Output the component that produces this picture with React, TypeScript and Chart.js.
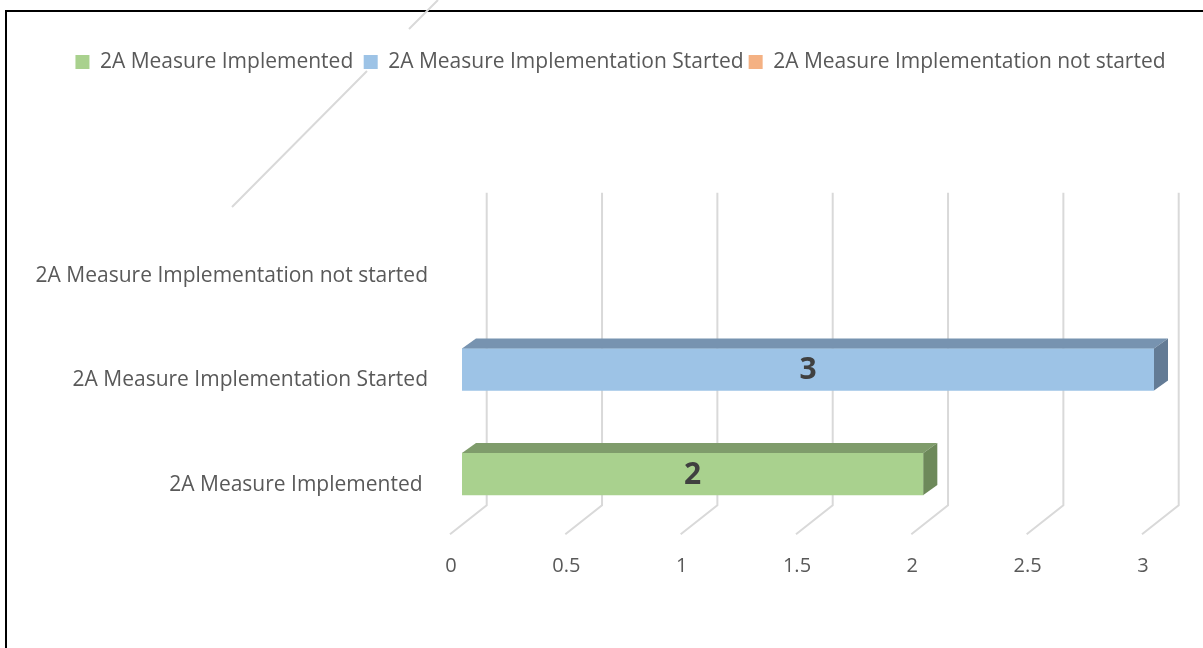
import React, { useEffect, useRef } from 'react';
import { Chart, registerables } from 'chart.js';

Chart.register(...registerables);

// ---- data ----
const categories = [
  '2A Measure Implemented ',
  '2A Measure Implementation Started',
  '2A Measure Implementation not started',
];
const seriesNames = [
  '2A Measure Implemented ',
  '2A Measure Implementation Started',
  '2A Measure Implementation not started',
];
const implementedValues = [2, null, null];
const startedValues = [null, 3, null];
const notStartedValues = [null, null, 0];
const xTickLabels = ['0', '0.5', '1', '1.5', '2', '2.5', '3'];
const xMin = 0;
const xMax = 3;
const xStep = 0.5;

// ---- styles ----
const FRONT = ['#A9D18E', '#9DC3E6', '#F4B183'];
const TOP = ['#7F9C6B', '#7793B0', '#C8906A'];
const SIDE = ['#6D895A', '#637B95', '#B07C58'];
const DX = 14;
const DY = 10;
const FONT = '"Open Sans", "Noto Sans", sans-serif';
const TEXT = '#595959';
const GRID = '#D9D9D9';
const LEGEND_CENTER_X = 620.5;

const legendPlugin = {
  id: 'legendTweak',
  afterInit(chart: any) {
    const lg = chart.legend;
    if (lg && !lg.__patched) {
      const orig = lg.fit.bind(lg);
      lg.fit = function () {
        orig();
        this.height = 166.25;
      };
      lg.__patched = true;
    }
  },
  afterLayout(chart: any) {
    const lg = chart.legend;
    if (!lg) return;
    const shift = LEGEND_CENTER_X - (lg.left + lg.right) / 2;
    lg.left += shift;
    lg.right += shift;
  },
};

const decoPlugin = {
  id: 'deco',
  beforeDraw(chart: any) {
    const ctx = chart.ctx;
    ctx.save();
    ctx.strokeStyle = GRID;
    ctx.lineWidth = 2;
    ctx.beginPath();
    ctx.moveTo(438, 0);
    ctx.lineTo(409, 29);
    ctx.moveTo(367, 71);
    ctx.lineTo(232, 207);
    ctx.stroke();
    ctx.restore();
  },
};

const gridPlugin = {
  id: 'grid3d',
  beforeDatasetsDraw(chart: any) {
    const ctx = chart.ctx;
    const xs = chart.scales.x;
    const { top, bottom } = chart.chartArea;
    ctx.save();
    ctx.strokeStyle = GRID;
    ctx.lineWidth = 2;
    ctx.lineJoin = 'miter';
    xs.ticks.forEach((t: any) => {
      const px = xs.getPixelForValue(t.value);
      ctx.beginPath();
      ctx.moveTo(px + 24.7, top - 20);
      ctx.lineTo(px + 24.7, bottom - 21);
      ctx.lineTo(px - 12, bottom + 8);
      ctx.stroke();
    });
    ctx.restore();
  },
};

const bar3dPlugin = {
  id: 'bar3d',
  afterDatasetsDraw(chart: any) {
    const ctx = chart.ctx;
    ctx.save();
    chart.data.datasets.forEach((ds: any, i: number) => {
      const meta = chart.getDatasetMeta(i);
      meta.data.forEach((bar: any, j: number) => {
        const v = ds.data[j];
        if (v == null || v === 0) return;
        const { x, y, base, height } = bar.getProps(['x', 'y', 'base', 'height'], true);
        const t = y - height / 2;
        const b = y + height / 2;
        const left = Math.min(x, base);
        const right = Math.max(x, base);
        ctx.fillStyle = TOP[i];
        ctx.beginPath();
        ctx.moveTo(left, t);
        ctx.lineTo(left + DX, t - DY);
        ctx.lineTo(right + DX, t - DY);
        ctx.lineTo(right, t);
        ctx.closePath();
        ctx.fill();
        ctx.fillStyle = SIDE[i];
        ctx.beginPath();
        ctx.moveTo(right, t);
        ctx.lineTo(right + DX, t - DY);
        ctx.lineTo(right + DX, b - DY);
        ctx.lineTo(right, b);
        ctx.closePath();
        ctx.fill();
        ctx.fillStyle = '#404040';
        ctx.font = 'bold 30px ' + FONT;
        ctx.textAlign = 'center';
        ctx.textBaseline = 'middle';
        ctx.fillText(String(v), (left + right) / 2, y + 1);
      });
    });
    ctx.restore();
  },
};

export default function App() {
  const ref = useRef<HTMLCanvasElement>(null);
  useEffect(() => {
    const datasets = [implementedValues, startedValues, notStartedValues].map((d, i) => ({
      label: seriesNames[i],
      data: d,
      backgroundColor: (c: any) => (c && c.raw === 0 ? 'rgba(0,0,0,0)' : FRONT[i]),
      borderWidth: 0,
      barThickness: 42,
    }));
    const chart = new Chart(ref.current as HTMLCanvasElement, {
      type: 'bar',
      data: { labels: categories, datasets },
      plugins: [legendPlugin, decoPlugin, gridPlugin, bar3dPlugin],
      options: {
        indexAxis: 'y',
        responsive: false,
        animation: false,
        events: [],
        layout: { padding: { left: 0, right: 49, top: 46.5, bottom: 61.75 } },
        plugins: {
          legend: {
            position: 'top',
            labels: {
              boxWidth: 14,
              boxHeight: 14,
              padding: 5,
              color: TEXT,
              font: { family: FONT, size: 21 },
            },
          },
          tooltip: { enabled: false },
        },
        scales: {
          x: {
            type: 'linear',
            stacked: true,
            min: xMin,
            max: xMax,
            grid: { display: false, drawTicks: false },
            border: { display: false },
            ticks: {
              stepSize: xStep,
              labelOffset: -11,
              padding: 28,
              color: TEXT,
              font: { family: FONT, size: 20 },
              callback: (_v: any, i: number) => xTickLabels[i],
            },
            afterFit(scale: any) {
              scale.height = 60;
            },
          },
          y: {
            type: 'category',
            stacked: true,
            reverse: true,
            grid: { display: false, drawTicks: false },
            border: { display: false },
            ticks: {
              labelOffset: 11,
              padding: 34,
              color: TEXT,
              font: { family: FONT, size: 21 },
            },
            afterFit(scale: any) {
              scale.width = 462;
            },
          },
        },
      } as any,
    });
    return () => chart.destroy();
  }, []);
  return (
    <div
      style={{
        position: 'fixed',
        left: 0,
        top: 0,
        width: 1203,
        height: 648,
        overflow: 'hidden',
        background: '#fff',
      }}
    >
      <div
        style={{
          position: 'absolute',
          left: 5,
          top: 10,
          width: 1400,
          height: 800,
          border: '2px solid #000',
          boxSizing: 'border-box',
        }}
      />
      <canvas
        ref={ref}
        width={1203}
        height={648}
        style={{ position: 'absolute', left: 0, top: 0, width: 1203, height: 648 }}
      />
    </div>
  );
}
